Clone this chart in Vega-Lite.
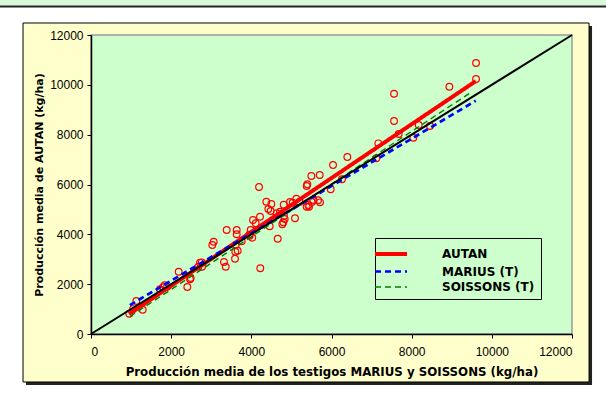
{
  "$schema": "https://vega.github.io/schema/vega-lite/v6.json",
  "width": 481,
  "height": 299,
  "autosize": {"type": "none"},
  "padding": {"left": 91, "top": 35, "right": 34, "bottom": 60},
  "background": "#ffffff",
  "config": {
    "view": {"stroke": null},
    "font": "Liberation Sans",
    "axis": {
      "grid": false,
      "domainColor": "#000000",
      "domainWidth": 1.5,
      "tickColor": "#000000",
      "tickSize": 4,
      "tickWidth": 1,
      "labelColor": "#000000",
      "labelFont": "Liberation Sans",
      "labelFontSize": 12,
      "titleColor": "#000000",
      "titleFont": "DejaVu Sans",
      "titleFontWeight": "bold"
    }
  },
  "datasets": {
    "points": [
      {"media": 9606, "autan": 10875}, {"media": 9606, "autan": 10233}, {"media": 8940, "autan": 9924},
      {"media": 7560, "autan": 9643}, {"media": 7560, "autan": 8548}, {"media": 7677, "autan": 8026},
      {"media": 8176, "autan": 8387}, {"media": 8458, "autan": 8347}, {"media": 8043, "autan": 7878},
      {"media": 7168, "autan": 7652}, {"media": 7118, "autan": 7051}, {"media": 6395, "autan": 7103},
      {"media": 6038, "autan": 6782}, {"media": 5706, "autan": 6381}, {"media": 5497, "autan": 6341},
      {"media": 6262, "autan": 6208}, {"media": 5397, "autan": 6008}, {"media": 5381, "autan": 5940},
      {"media": 5980, "autan": 5807}, {"media": 4192, "autan": 5899}, {"media": 5664, "autan": 5365},
      {"media": 5514, "autan": 5297}, {"media": 5440, "autan": 5109}, {"media": 5381, "autan": 5109},
      {"media": 5122, "autan": 5430}, {"media": 5032, "autan": 5269}, {"media": 4965, "autan": 5297},
      {"media": 4807, "autan": 5190}, {"media": 4374, "autan": 5310}, {"media": 4499, "autan": 5217},
      {"media": 4424, "autan": 5016}, {"media": 4483, "autan": 4936}, {"media": 4716, "autan": 4908},
      {"media": 4633, "autan": 4843}, {"media": 4832, "autan": 4615}, {"media": 4798, "autan": 4482},
      {"media": 4773, "autan": 4402}, {"media": 5090, "autan": 4643}, {"media": 4042, "autan": 4575},
      {"media": 4217, "autan": 4707}, {"media": 4109, "autan": 4442}, {"media": 4458, "autan": 4322},
      {"media": 3984, "autan": 4173}, {"media": 3950, "autan": 3985}, {"media": 3385, "autan": 4173},
      {"media": 3635, "autan": 4173}, {"media": 3635, "autan": 4001}, {"media": 4658, "autan": 3825},
      {"media": 3061, "autan": 3704}, {"media": 3027, "autan": 3572}, {"media": 3760, "autan": 3720},
      {"media": 3610, "autan": 3572}, {"media": 3660, "autan": 3343}, {"media": 3600, "autan": 3303},
      {"media": 3593, "autan": 3022}, {"media": 3318, "autan": 2889}, {"media": 3361, "autan": 2701},
      {"media": 4224, "autan": 2636}, {"media": 2762, "autan": 2876}, {"media": 2720, "autan": 2861},
      {"media": 2770, "autan": 2701}, {"media": 2677, "autan": 2701}, {"media": 2188, "autan": 2500},
      {"media": 2487, "autan": 2247}, {"media": 2470, "autan": 2195}, {"media": 2403, "autan": 1886},
      {"media": 1838, "autan": 1954}, {"media": 1796, "autan": 1874}, {"media": 1721, "autan": 1794},
      {"media": 1130, "autan": 1324}, {"media": 1290, "autan": 975}, {"media": 955, "autan": 815},
      {"media": 5547, "autan": 5377}, {"media": 5714, "autan": 5284}, {"media": 5423, "autan": 5177},
      {"media": 4815, "autan": 4735}, {"media": 3960, "autan": 3945}, {"media": 4025, "autan": 3865},
      {"media": 1050, "autan": 1000}, {"media": 1900, "autan": 1900}, {"media": 5200, "autan": 5300}
    ],
    "lines": [
      {"serie": "AUTAN", "media": 950, "autan": 800},
      {"serie": "AUTAN", "media": 9600, "autan": 10150},
      {"serie": "MARIUS (T)", "media": 970, "autan": 1160},
      {"serie": "MARIUS (T)", "media": 9600, "autan": 9360},
      {"serie": "SOISSONS (T)", "media": 970, "autan": 700},
      {"serie": "SOISSONS (T)", "media": 9500, "autan": 9720}
    ],
    "diag": [
      {"media": 0, "autan": 0},
      {"media": 12000, "autan": 12000}
    ]
  },
  "layer": [
    {
      "data": {"values": [{}]},
      "mark": {"type": "rect", "fill": "#d9f7d9"},
      "encoding": {
        "x": {"datum": -2270, "type": "quantitative", "scale": {"domain": [0, 12000], "nice": false, "zero": false}},
        "x2": {"datum": 12849},
        "y": {"datum": 13405, "type": "quantitative", "scale": {"domain": [0, 12000], "nice": false, "zero": false}},
        "y2": {"datum": 13184}
      }
    },
    {
      "data": {"values": [{}]},
      "mark": {"type": "rule", "stroke": "#222222", "strokeWidth": 2},
      "encoding": {
        "x": {"datum": -2270, "type": "quantitative"},
        "x2": {"datum": 12849},
        "y": {"datum": 13144, "type": "quantitative"}
      }
    },
    {
      "data": {"values": [{}]},
      "mark": {"type": "rect", "fill": "#222222"},
      "encoding": {
        "x": {"datum": -1621, "type": "quantitative"},
        "x2": {"datum": 12500},
        "y": {"datum": 12362, "type": "quantitative"},
        "y2": {"datum": -2046}
      }
    },
    {
      "data": {"values": [{}]},
      "mark": {"type": "rect", "fill": "#ffffcc", "stroke": "#000000", "strokeWidth": 1},
      "encoding": {
        "x": {"datum": -1696, "type": "quantitative"},
        "x2": {"datum": 12425},
        "y": {"datum": 12482, "type": "quantitative"},
        "y2": {"datum": -1926}
      }
    },
    {
      "data": {"values": [{}]},
      "mark": {"type": "rect", "fill": "#ccffcc", "stroke": "#999999", "strokeWidth": 1.5},
      "encoding": {
        "x": {"datum": 0, "type": "quantitative"},
        "x2": {"datum": 12000},
        "y": {"datum": 12000, "type": "quantitative"},
        "y2": {"datum": 0}
      }
    },
    {
      "data": {"name": "points"},
      "mark": {"type": "point", "shape": "circle", "filled": false, "stroke": "#ff0000", "strokeWidth": 1.2, "size": 45, "opacity": 1},
      "encoding": {
        "x": {"field": "media", "type": "quantitative", "axis": {"zindex": 2, "format": "d", "values": [0, 2000, 4000, 6000, 8000, 10000, 12000], "title": "Producción media de los testigos MARIUS y SOISSONS (kg/ha)", "titleFontSize": 11.8, "labelPadding": 8, "titlePadding": 9}},
        "y": {"field": "autan", "type": "quantitative", "axis": {"zindex": 2, "format": "d", "values": [0, 2000, 4000, 6000, 8000, 10000, 12000], "title": "Producción media de AUTAN (kg/ha)", "titleFontSize": 11, "labelPadding": 4, "titlePadding": 5}}
      }
    },
    {
      "data": {"name": "lines"},
      "mark": {"type": "line"},
      "encoding": {
        "x": {"field": "media", "type": "quantitative"},
        "y": {"field": "autan", "type": "quantitative"},
        "color": {
          "field": "serie", "type": "nominal",
          "scale": {"domain": ["AUTAN", "MARIUS (T)", "SOISSONS (T)"], "range": ["#ff0000", "#0000ff", "#008000"]},
          "legend": {
            "title": null, "orient": "none", "legendX": 284, "legendY": 203,
            "strokeColor": "#000000", "padding": 6,
            "symbolType": "M-2,0H2", "symbolSize": 256,
            "labelFont": "DejaVu Sans", "labelFontSize": 12, "labelFontWeight": "bold", "labelColor": "#000000",
            "labelOffset": 41, "rowPadding": 0
          }
        },
        "strokeDash": {
          "field": "serie", "type": "nominal",
          "scale": {"domain": ["AUTAN", "MARIUS (T)", "SOISSONS (T)"], "range": [[1, 0], [6, 4], [6, 4]]}
        },
        "strokeWidth": {
          "field": "serie", "type": "nominal",
          "scale": {"domain": ["AUTAN", "MARIUS (T)", "SOISSONS (T)"], "range": [4, 1.4, 1.4]}
        }
      }
    },
    {
      "data": {"name": "diag"},
      "mark": {"type": "line", "stroke": "#000000", "strokeWidth": 2},
      "encoding": {
        "x": {"field": "media", "type": "quantitative"},
        "y": {"field": "autan", "type": "quantitative"}
      }
    }
  ]
}
